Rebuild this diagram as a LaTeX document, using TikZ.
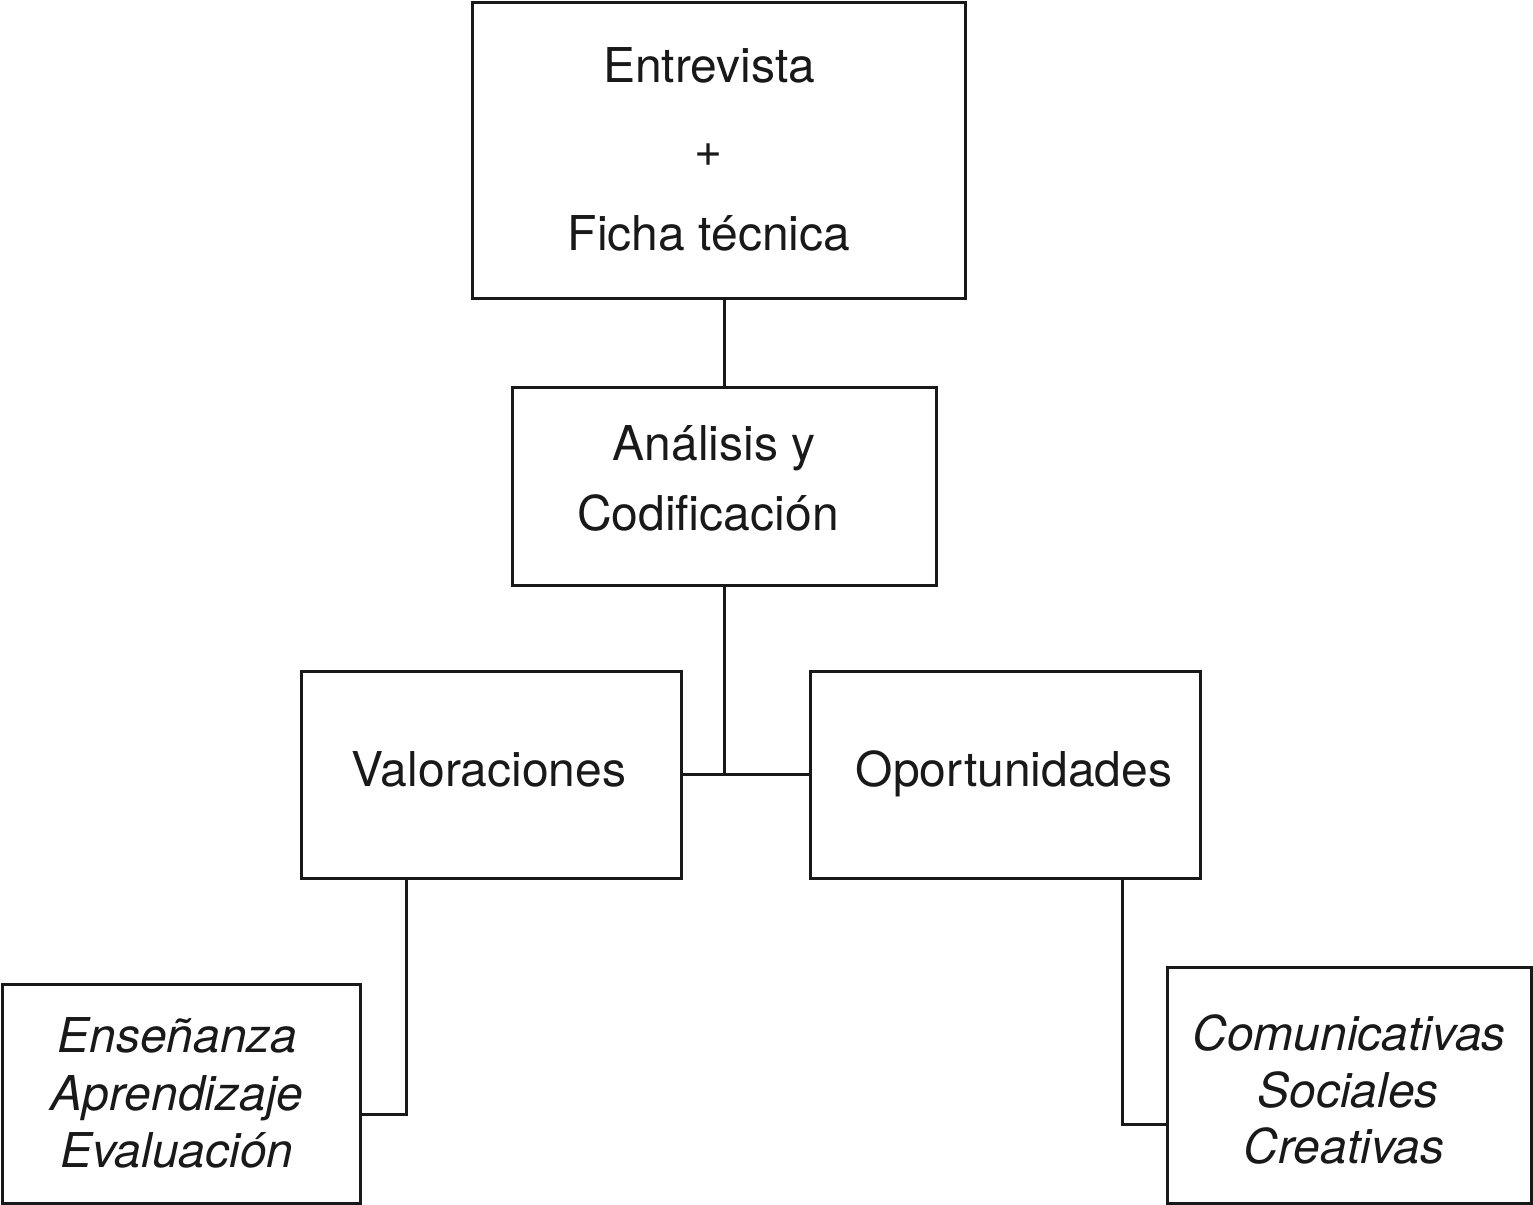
\documentclass[tikz,border=0pt]{standalone}
\usepackage{fontspec}
\setmainfont{TeX Gyre Heros}
\usetikzlibrary{calc}
\begin{document}
\begin{tikzpicture}[x=0.5pt,y=-0.5pt,
  bx/.style={draw=black!90, line width=1.5pt, rectangle, inner sep=0pt, outer sep=0pt},
  txt/.style={anchor=base, inner sep=0pt, font=\fontsize{24}{28}\selectfont, text=black!90},
  itxt/.style={txt, font=\fontsize{24}{28}\selectfont\itshape},
  conn/.style={draw=black!90, line width=1.5pt}]
\useasboundingbox (0,0) rectangle (1533,1205);
% boxes
\node[bx, minimum width=246.5pt, minimum height=148pt] (top) at (718.5,150) {};
\node[bx, minimum width=212pt, minimum height=99pt] (anal) at (724.5,486) {};
\node[bx, minimum width=190pt, minimum height=103.5pt] (val) at (491,774.5) {};
\node[bx, minimum width=195pt, minimum height=103.5pt] (opo) at (1005,774.5) {};
\node[bx, minimum width=179pt, minimum height=109.5pt] (ens) at (181,1093.5) {};
\node[bx, minimum width=182pt, minimum height=118pt] (com) at (1349,1085) {};
% texts
\node[txt] (t1) at (709,82) {Entrevista};
\node[txt] (t2) at (709,166) {+};
\node[txt] (t3) at (709,250) {Ficha técnica};
\node[txt] (a1) at (714,460) {Análisis y};
\node[txt] (a2) at (708,530) {Codificación};
\node[txt] (v1) at (489,786) {Valoraciones};
\node[txt] (o1) at (1014,786) {Oportunidades};
\node[itxt] (e1) at (177.5,1052) {Enseñanza};
\node[itxt] (e2) at (177,1110) {Aprendizaje};
\node[itxt] (e3) at (177,1167) {Evaluación};
\node[itxt] (c1) at (1349,1050) {Comunicativas};
\node[itxt] (c2) at (1348,1107) {Sociales};
\node[itxt] (c3) at (1344,1163) {Creativas};
% connectors
\coordinate (j) at (anal.south |- val.east);
\draw[conn] (top.south -| anal.north) -- (anal.north);
\draw[conn] (anal.south) -- (j);
\draw[conn] (val.east) -- (opo.west);
\draw[conn] ($(val.south west)+(105,0)$) |- ($(ens.south east)+(0,-89)$);
\draw[conn] ($(opo.south west)+(312,0)$) |- ($(com.south west)+(0,-79)$);
\end{tikzpicture}
\end{document}
